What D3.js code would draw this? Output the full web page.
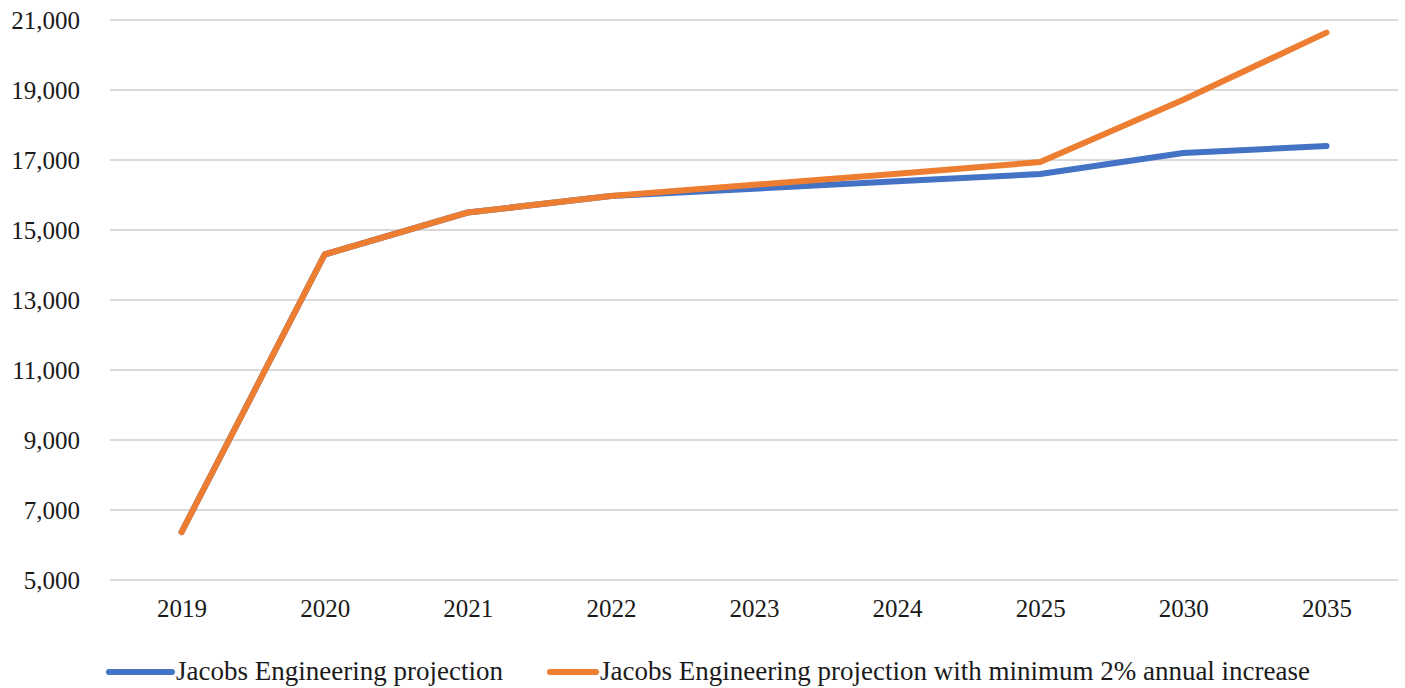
<!DOCTYPE html>
<html>
<head>
<meta charset="utf-8">
<script src="https://cdn.jsdelivr.net/npm/d3@7"></script>
<style>
  html, body { margin: 0; padding: 0; background: #fff; }
  svg { display: block; }
  text { font-family: "Liberation Serif", "DejaVu Serif", serif; fill: #1a1a1a; }
</style>
</head>
<body>
<svg id="chart" width="1405" height="688"></svg>
<script>
// Years on the category axis
const years = ["2019", "2020", "2021", "2022", "2023", "2024", "2025", "2030", "2035"];
// Base projection
const jacobsProjection = [6370, 14300, 15500, 15970, 16180, 16390, 16600, 17200, 17400];
// Projection with a minimum 2% annual increase
const jacobsMin2Pct = [6370, 14300, 15500, 15970, 16290, 16610, 16940, 18720, 20640];
// Y-axis ticks
const yTicks = [5000, 7000, 9000, 11000, 13000, 15000, 17000, 19000, 21000];

const seriesNames = ["Jacobs Engineering projection", "Jacobs Engineering projection with minimum 2% annual increase"];
const seriesColors = ["#4472C4", "#ED7D31"];

const serif = "'Liberation Serif', 'DejaVu Serif', serif";
const svg = d3.select("#chart");
const plot = { left: 110, right: 1398, top: 20, bottom: 580 };

const x = d3.scalePoint().domain(years).range([plot.left, plot.right]).padding(0.5);
const y = d3.scaleLinear().domain([5000, 21000]).range([plot.bottom, plot.top]);

// Horizontal gridlines
svg.append("g")
  .selectAll("line")
  .data(yTicks)
  .join("line")
  .attr("x1", plot.left).attr("x2", plot.right)
  .attr("y1", d => y(d)).attr("y2", d => y(d))
  .attr("stroke", "#d9d9d9").attr("stroke-width", 2);

// Y-axis labels
const yAxis = d3.axisLeft(y).tickValues(yTicks).tickFormat(d3.format(",")).tickSize(0).tickPadding(0);
const gy = svg.append("g").attr("transform", `translate(80,0)`).call(yAxis);
gy.select(".domain").remove();
gy.selectAll("text").style("font-size", "25px").style("font-family", serif).attr("fill", "#1a1a1a");

// X-axis labels
const xAxis = d3.axisBottom(x).tickSize(0).tickPadding(0);
const gx = svg.append("g").attr("transform", `translate(0,${plot.bottom + 19})`).call(xAxis);
gx.select(".domain").remove();
gx.selectAll("text").style("font-size", "25px").style("font-family", serif).attr("fill", "#1a1a1a");

// Series lines (drawn base first, then 2% line on top)
const line = d3.line().x((d, i) => x(years[i])).y(d => y(d));
[jacobsProjection, jacobsMin2Pct].forEach((vals, k) => {
  svg.append("path")
    .datum(vals)
    .attr("d", line)
    .attr("fill", "none")
    .attr("stroke", seriesColors[k])
    .attr("stroke-width", 6)
    .attr("stroke-linejoin", "round")
    .attr("stroke-linecap", "round");
});

// Legend
const legendY = 672;
const legendItems = [
  { x1: 109, x2: 172, tx: 176 },
  { x1: 550, x2: 596, tx: 600 }
];
legendItems.forEach((it, k) => {
  svg.append("line")
    .attr("x1", it.x1).attr("x2", it.x2)
    .attr("y1", legendY).attr("y2", legendY)
    .attr("stroke", seriesColors[k]).attr("stroke-width", 6)
    .attr("stroke-linecap", "round");
  svg.append("text")
    .attr("x", it.tx).attr("y", legendY + 8)
    .style("font-size", "27px")
    .style("font-family", serif)
    .attr("fill", "#1a1a1a")
    .text(seriesNames[k]);
});
</script>
</body>
</html>
